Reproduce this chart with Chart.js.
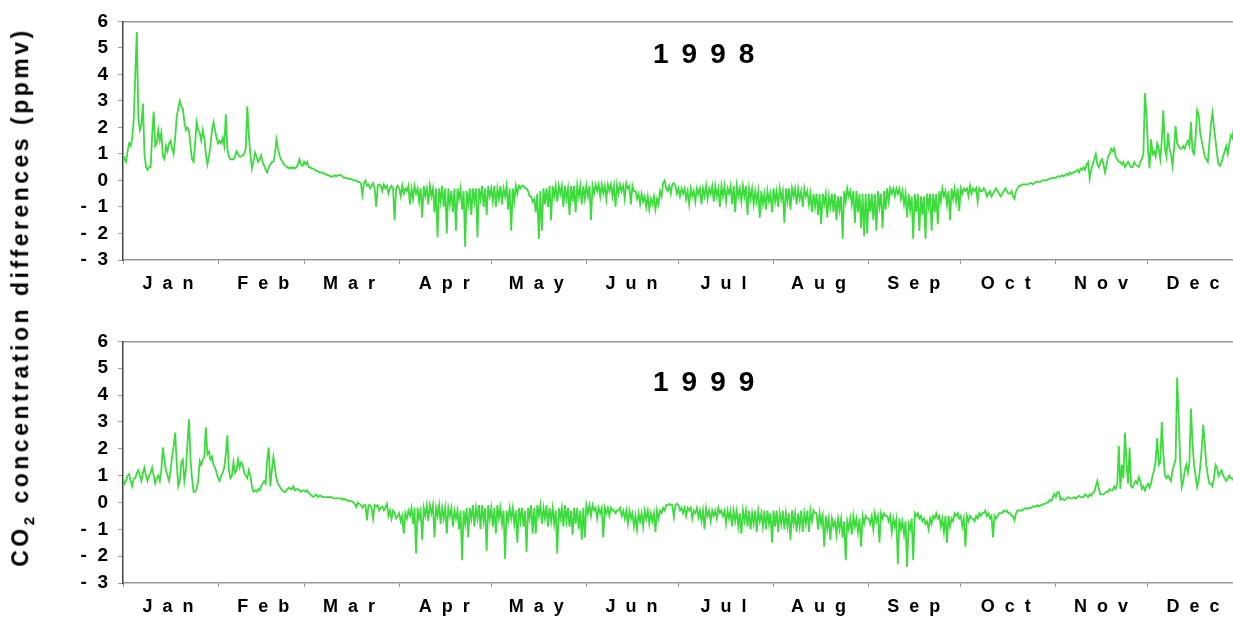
<!DOCTYPE html>
<html>
<head>
<meta charset="utf-8">
<script src="https://cdn.jsdelivr.net/npm/chart.js@4.4.1/dist/chart.umd.min.js"></script>
<style>
  body { margin: 0; width: 1233px; height: 619px; background: #fff; position: relative; overflow: hidden;
         font-family: 'Liberation Sans', Arial, sans-serif; }
  canvas { position: absolute; left: 0; }
  #c98 { top: 0; }
  #c99 { top: 320px; }
  .year { position: absolute; font-weight: bold; font-size: 28px; letter-spacing: 13px; color: #000; }
  #ytitle { position: absolute; left: 22px; top: 297px; white-space: nowrap; font-weight: bold; font-size: 23px;
            letter-spacing: 3.5px; color: #000; transform: translate(-50%, -50%) rotate(-90deg); }
  #ytitle sub { font-size: 15px; }
</style>
</head>
<body>
<canvas id="c98" width="1233" height="300"></canvas>
<canvas id="c99" width="1233" height="299"></canvas>
<div class="year" id="t98" style="left:653px; top:38px;"></div>
<div class="year" id="t99" style="left:653px; top:366px;"></div>
<div id="ytitle">CO<sub>2</sub> concentration differences (ppmv)</div>
<script>
const months = ['Jan','Feb','Mar','Apr','May','Jun','Jul','Aug','Sep','Oct','Nov','Dec'];
const monthStart = [0,31,59,90,120,151,181,212,243,273,304,334];
const yTicks = [-3,-2,-1,0,1,2,3,4,5,6];
const years = ['1998','1999'];

// half-day steps, one line per month
const co2_1998 = [
  1.0,0.8, 0.7,1.1, 1.4,1.3, 1.6,2.3, 4.0,5.6, 2.4,1.9, 2.1,2.9, 1.0,0.5, 0.4,0.5, 0.5,1.7, 2.6,1.3, 1.4,1.9, 1.5,1.8, 0.9,0.8, 1.3,1.1, 1.4,1.5, 1.2,1.0, 1.6,2.4, 2.7,3.0, 2.8,2.7, 2.2,1.9, 2.0,1.9, 1.3,0.8, 0.7,1.4, 2.2,1.9, 1.8,1.5, 1.9,1.6, 1.0,0.6, 0.9,1.3, 1.9,2.2, 1.9,1.6,
  1.4,1.5, 1.4,1.6, 1.3,2.5, 1.2,0.9, 0.8,0.8, 0.8,0.9, 1.1,1.0, 0.9,0.9, 0.95,1.0, 1.2,2.8, 1.7,1.0, 0.45,0.7, 1.05,0.9, 0.7,0.8, 0.95,0.7, 0.55,0.4, 0.3,0.5, 0.6,0.7, 0.7,1.0, 1.55,1.2, 0.95,0.8, 0.7,0.6, 0.55,0.5, 0.45,0.5, 0.45,0.5, 0.45,0.5, 0.6,0.8, 0.6,0.55,
  0.7,0.6, 0.7,0.5, 0.5,0.45, 0.45,0.4, 0.35,0.35, 0.3,0.3, 0.3,0.25, 0.25,0.2, 0.2,0.15, 0.15,0.15, 0.2,0.15, 0.2,0.2, 0.2,0.15, 0.1,0.1, 0.1,0.05, 0.07,0.05, 0.0,0.0, 0.0,-0.05, -0.05,-0.1, -0.55,-0.1, 0.0,-0.2, -0.15,-0.3, -0.2,-0.1, -0.3,-1.0, -0.2,-0.15, -0.2,-0.4, -0.15,-0.3, -0.2,-0.5, -0.3,-0.2, -0.3,-1.5, -0.3,-0.2,
  -0.3,-0.6, -0.2,-0.5, -0.3,-0.4, -0.2,-0.9, -0.3,-0.7, -0.2,-0.5, -0.3,-0.8, -0.3,-1.4, -0.2,-0.6, -0.3,-0.9, -0.2,-0.6, -0.3,-1.2, -0.3,-2.15, -0.3,-0.8, -0.2,-1.0, -0.3,-2.0, -0.3,-0.9, -0.4,-1.2, -0.3,-1.9, -0.3,-0.7, -0.3,-1.1, -0.4,-2.5, -0.4,-0.9, -0.3,-1.3, -0.3,-0.8, -0.3,-2.15, -0.3,-0.7, -0.2,-1.0, -0.3,-1.3, -0.2,-0.6,
  -0.3,-0.8, -0.2,-1.0, -0.3,-0.7, -0.2,-0.9, -0.3,-0.6, -0.2,-1.1, -0.3,-1.9, -0.3,-0.8, -0.2,-0.5, -0.2,-0.3, -0.2,-0.2, -0.3,-0.3, -0.4,-0.6, -0.6,-0.8, -0.7,-1.2, -0.5,-2.2, -0.4,-1.9, -0.3,-0.9, -0.3,-1.0, -0.2,-1.5, -0.2,-0.6, -0.2,-0.8, -0.2,-0.5, -0.2,-1.0, -0.2,-0.7, -0.3,-1.3, -0.2,-0.8, -0.2,-1.2, -0.2,-0.6, -0.2,-0.9, -0.2,-0.7,
  -0.2,-0.6, -0.2,-1.5, -0.2,-0.5, -0.15,-0.4, -0.15,-0.6, -0.15,-0.5, -0.2,-0.7, -0.15,-0.4, -0.15,-0.6, -0.2,-1.0, -0.15,-0.5, -0.15,-0.4, -0.2,-0.7, -0.1,-0.3, -0.2,-0.9, -0.2,-0.4, -0.4,-0.7, -0.5,-0.9, -0.5,-0.8, -0.6,-1.0, -0.6,-1.1, -0.7,-0.9, -0.6,-1.1, -0.7,-0.9, -0.4,-0.6, -0.1,0.0, -0.3,-0.4, -0.2,-0.5, -0.15,-0.1, -0.2,-0.5,
  -0.3,-0.6, -0.3,-0.5, -0.3,-0.7, -0.4,-0.9, -0.3,-0.6, -0.4,-0.8, -0.3,-0.5, -0.3,-0.9, -0.3,-0.6, -0.2,-0.7, -0.3,-0.5, -0.2,-0.8, -0.2,-0.6, -0.3,-1.0, -0.2,-0.6, -0.2,-0.8, -0.3,-0.5, -0.2,-0.9, -0.2,-1.2, -0.2,-0.6, -0.3,-0.8, -0.2,-0.6, -0.2,-1.3, -0.3,-0.7, -0.3,-0.9, -0.4,-0.8, -0.4,-1.4, -0.4,-0.9, -0.5,-1.1, -0.4,-0.8, -0.5,-1.2,
  -0.3,-0.8, -0.4,-1.0, -0.3,-0.7, -0.4,-1.6, -0.3,-0.8, -0.3,-1.1, -0.3,-0.6, -0.3,-0.9, -0.3,-0.7, -0.4,-1.0, -0.3,-0.6, -0.4,-0.9, -0.5,-1.2, -0.5,-1.0, -0.5,-1.3, -0.5,-1.65, -0.5,-0.9, -0.5,-1.4, -0.6,-1.0, -0.5,-1.2, -0.5,-1.5, -0.6,-1.1, -0.6,-2.2, -0.4,-0.8, -0.3,-0.6, -0.4,-0.9, -0.4,-1.6, -0.4,-1.2, -0.5,-1.8, -0.5,-2.1, -0.5,-2.0,
  -0.5,-1.2, -0.5,-1.5, -0.5,-1.9, -0.4,-1.0, -0.5,-1.8, -0.4,-1.1, -0.3,-0.8, -0.3,-0.5, -0.3,-0.6, -0.3,-0.5, -0.3,-0.7, -0.4,-0.9, -0.5,-1.4, -0.5,-1.1, -0.6,-2.2, -0.5,-1.2, -0.5,-1.9, -0.6,-1.3, -0.6,-2.2, -0.5,-1.0, -0.5,-1.9, -0.5,-1.2, -0.5,-1.65, -0.4,-0.8, -0.3,-0.6, -0.4,-0.9, -0.4,-1.5, -0.3,-0.7, -0.3,-0.8, -0.3,-1.15,
  -0.3,-0.5, -0.3,-0.4, -0.3,-0.6, -0.2,-0.5, -0.3,-0.4, -0.3,-0.8, -0.3,-0.4, -0.4,-0.3, -0.4,-0.6, -0.5,-0.4, -0.6,-0.5, -0.4,-0.3, -0.4,-0.5, -0.6,-0.5, -0.4,-0.3, -0.4,-0.5, -0.5,-0.4, -0.6,-0.7, -0.4,-0.3, -0.2,-0.2, -0.15,-0.15, -0.15,-0.15, -0.15,-0.1, -0.1,-0.15, -0.1,-0.05, -0.05,-0.05, -0.05,0.0, 0.0,0.0, 0.0,0.05, 0.05,0.1, 0.1,0.1,
  0.1,0.15, 0.15,0.15, 0.2,0.15, 0.2,0.25, 0.2,0.3, 0.25,0.3, 0.3,0.35, 0.4,0.3, 0.45,0.4, 0.5,0.4, 0.6,0.7, 0.07,0.4, 0.6,0.8, 1.0,0.6, 0.5,0.7, 0.8,0.6, 0.3,0.6, 0.9,1.0, 1.2,1.1, 1.2,0.9, 0.8,0.7, 0.7,0.6, 0.7,0.5, 0.6,0.7, 0.6,0.5, 0.5,0.7, 0.6,0.55, 0.5,0.7, 0.8,1.0, 3.3,2.5,
  1.2,0.45, 1.55,1.0, 1.1,0.9, 1.4,1.2, 0.8,1.5, 2.65,1.2, 0.9,1.8, 1.2,1.0, 0.55,1.2, 2.05,1.4, 1.3,1.2, 1.2,1.3, 1.2,1.4, 1.5,1.3, 2.2,1.1, 1.0,1.6, 2.65,2.5, 1.8,1.5, 1.2,0.9, 0.8,0.7, 1.4,2.1, 2.55,2.0, 1.5,1.0, 0.6,0.55, 0.7,0.9, 1.1,1.3, 1.0,1.4, 1.7,1.6, 2.0,2.3, 2.4,2.0, 1.8,1.6
];

const co2_1999 = [
  0.9,0.7, 0.8,1.0, 1.06,0.8, 0.6,0.9, 0.9,1.1, 1.2,1.0, 0.8,1.1, 1.3,1.0, 0.8,1.0, 1.1,1.3, 1.0,0.7, 0.9,1.0, 0.8,1.2, 2.05,1.6, 1.2,1.0, 0.8,1.2, 1.7,2.1, 2.6,1.5, 0.6,0.8, 1.5,1.6, 0.8,1.2, 2.2,3.1, 1.6,0.9, 0.4,0.4, 0.5,0.8, 1.55,1.4, 1.6,1.7, 2.8,1.8, 1.9,1.6, 1.7,1.4, 1.3,1.1,
  0.9,0.8, 1.0,1.1, 1.3,1.8, 2.5,1.2, 0.9,1.0, 1.5,1.1, 1.2,1.6, 1.3,1.5, 1.4,1.1, 1.0,0.9, 1.2,1.0, 0.6,0.4, 0.45,0.4, 0.5,0.45, 0.6,0.7, 0.8,0.7, 1.6,2.05, 0.6,1.2, 1.7,1.3, 0.9,0.7, 0.6,0.5, 0.45,0.4, 0.4,0.5, 0.55,0.5, 0.5,0.6, 0.45,0.5, 0.5,0.45, 0.4,0.45,
  0.45,0.4, 0.45,0.35, 0.3,0.25, 0.2,0.25, 0.3,0.2, 0.25,0.25, 0.2,0.2, 0.2,0.2, 0.2,0.2, 0.2,0.15, 0.15,0.15, 0.15,0.15, 0.15,0.1, 0.15,0.1, 0.1,0.05, 0.07,0.05, 0.0,-0.05, -0.17,0.0, -0.05,-0.1, -0.2,-0.1, -0.1,-0.67, -0.1,-0.1, -0.2,-0.6, -0.1,-0.15, -0.1,-0.3, -0.2,-0.15, -0.3,-0.2, -0.05,-0.5, -0.3,-0.6, -0.3,-0.4, -0.6,-0.5,
  -0.4,-0.7, -0.5,-1.16, -0.4,-0.6, -0.3,-0.5, -0.2,-0.8, -0.2,-1.9, -0.2,-0.6, -0.3,-1.4, -0.2,-0.5, -0.1,-0.7, -0.1,-0.4, -0.1,-1.3, -0.2,-0.5, -0.1,-0.8, -0.2,-0.6, -0.2,-1.16, -0.2,-0.5, -0.2,-0.9, -0.3,-0.6, -0.3,-1.0, -0.3,-2.15, -0.3,-0.8, -0.2,-1.3, -0.2,-0.6, -0.1,-0.9, -0.2,-0.6, -0.1,-1.0, -0.1,-0.7, -0.2,-1.8, -0.1,-0.6,
  -0.2,-0.9, -0.2,-1.16, -0.1,-0.6, -0.2,-0.8, -0.3,-2.1, -0.3,-0.7, -0.2,-0.6, -0.2,-0.8, -0.3,-1.5, -0.2,-0.7, -0.2,-0.9, -0.3,-1.85, -0.2,-0.6, -0.1,-1.16, -0.2,-1.16, -0.1,-0.5, -0.1,-0.8, -0.2,-0.6, -0.1,-0.9, -0.2,-0.7, -0.2,-0.8, -0.3,-1.9, -0.2,-0.6, -0.2,-0.9, -0.1,-0.7, -0.2,-0.9, -0.3,-1.2, -0.2,-0.8, -0.2,-1.0, -0.3,-1.4, -0.2,-1.3,
  -0.1,-0.4, -0.1,-0.5, -0.1,-0.3, -0.2,-0.6, -0.2,-0.4, -0.2,-1.3, -0.2,-0.4, -0.2,-0.5, -0.2,-0.3, -0.3,-0.4, -0.3,-0.3, -0.2,-0.5, -0.3,-0.6, -0.3,-0.8, -0.3,-0.6, -0.4,-0.9, -0.5,-1.0, -0.4,-0.7, -0.4,-0.9, -0.3,-0.6, -0.3,-0.8, -0.4,-0.7, -0.4,-1.1, -0.3,-0.6, -0.3,-0.4, -0.2,-0.3, -0.1,-0.1, -0.05,-0.1, -0.1,-0.55, -0.1,-0.05,
  -0.1,-0.3, -0.2,-0.4, -0.2,-0.5, -0.2,-0.3, -0.2,-0.6, -0.3,-0.4, -0.2,-0.55, -0.3,-0.7, -0.3,-1.0, -0.2,-0.5, -0.3,-0.7, -0.3,-0.5, -0.3,-0.6, -0.2,-0.4, -0.3,-0.5, -0.3,-0.8, -0.3,-0.6, -0.3,-0.9, -0.3,-0.7, -0.3,-0.9, -0.4,-1.16, -0.3,-0.7, -0.3,-0.9, -0.3,-1.0, -0.4,-0.8, -0.3,-1.1, -0.3,-0.7, -0.4,-0.9, -0.3,-1.0, -0.3,-0.8, -0.4,-1.5,
  -0.3,-0.9, -0.3,-1.1, -0.4,-0.8, -0.3,-1.0, -0.4,-0.9, -0.4,-1.4, -0.3,-0.8, -0.4,-1.1, -0.4,-0.9, -0.3,-1.1, -0.4,-0.8, -0.3,-1.1, -0.3,-0.7, -0.3,-0.4, -0.4,-1.0, -0.4,-0.8, -0.5,-1.65, -0.5,-1.0, -0.6,-1.4, -0.6,-0.9, -0.7,-1.2, -0.6,-1.0, -0.6,-1.3, -0.7,-2.15, -0.7,-1.0, -0.6,-1.2, -0.5,-0.9, -0.6,-1.1, -0.6,-1.65, -0.5,-0.8, -0.5,-0.6,
  -0.6,-0.8, -0.5,-1.0, -0.4,-0.7, -0.5,-1.5, -0.4,-0.6, -0.4,-0.5, -0.5,-0.7, -0.5,-1.1, -0.6,-0.9, -0.6,-2.3, -0.6,-1.0, -0.7,-1.2, -0.7,-2.4, -0.8,-1.0, -0.6,-2.15, -0.4,-0.5, -0.4,-0.6, -0.5,-0.7, -0.6,-0.8, -0.7,-1.0, -0.6,-0.8, -0.5,-0.6, -0.4,-0.6, -0.5,-0.9, -0.6,-1.1, -0.5,-1.5, -0.5,-0.9, -0.6,-0.7, -0.4,-0.5, -0.4,-0.6,
  -0.5,-0.9, -0.6,-1.65, -0.5,-0.7, -0.5,-0.6, -0.6,-0.7, -0.5,-0.6, -0.4,-0.5, -0.4,-0.4, -0.3,-0.5, -0.4,-0.6, -0.5,-1.3, -0.5,-0.6, -0.5,-0.4, -0.4,-0.4, -0.3,-0.35, -0.3,-0.4, -0.4,-0.5, -0.5,-0.67, -0.4,-0.3, -0.3,-0.3, -0.3,-0.25, -0.2,-0.25, -0.2,-0.2, -0.2,-0.15, -0.15,-0.15, -0.1,-0.15, -0.1,-0.1, -0.05,-0.05, 0.0,0.0, 0.1,0.05, 0.2,0.32,
  0.2,0.38, 0.38,0.1, 0.15,0.1, 0.1,0.15, 0.2,0.15, 0.15,0.15, 0.2,0.15, 0.2,0.25, 0.2,0.2, 0.2,0.3, 0.25,0.2, 0.3,0.25, 0.35,0.4, 0.6,0.8, 0.5,0.3, 0.3,0.3, 0.35,0.4, 0.4,0.5, 0.45,0.45, 0.6,0.5, 0.7,2.1, 0.5,1.4, 0.9,2.6, 1.5,0.7, 2.05,0.6, 0.55,0.7, 0.8,0.7, 0.94,0.8, 0.5,0.6, 0.45,0.6,
  0.7,0.55, 0.7,1.0, 1.2,1.55, 2.4,1.4, 1.5,3.0, 1.8,1.0, 0.9,1.0, 0.9,0.8, 1.2,1.4, 1.6,4.65, 3.2,1.5, 0.57,0.8, 1.2,1.4, 1.1,1.5, 3.5,2.2, 1.4,1.0, 0.57,0.8, 1.3,2.0, 2.9,2.2, 1.4,1.0, 0.7,0.7, 0.6,0.9, 1.4,1.3, 1.0,1.1, 1.2,1.0, 0.9,0.8, 0.9,1.0, 0.9,0.9, 0.8,0.7, 0.8,0.9, 1.0,0.9
];

Chart.defaults.font.family = "'Liberation Sans', Arial, sans-serif";
Chart.defaults.color = '#000';

const xMax = 361.7;

function makeChart(id, values, padTop, axisHeight) {
    const ctx = document.getElementById(id).getContext('2d');
    return new Chart(ctx, {
        type: 'line',
        data: {
            datasets: [{
                data: values.map((v, i) => ({ x: i / 2, y: v })),
                borderColor: '#3ddb3d',
                borderWidth: 1.8,
                pointRadius: 0,
                tension: 0
            }]
        },
        options: {
            responsive: false,
            animation: false,
            events: [],
            layout: { padding: { top: padTop, left: 0, right: 0, bottom: 0 } },
            plugins: {
                legend: { display: false },
                tooltip: { enabled: false }
            },
            scales: {
                x: {
                    type: 'linear',
                    min: 0,
                    max: xMax,
                    afterBuildTicks: s => { s.ticks = monthStart.map(v => ({ value: v })); },
                    afterFit: s => { s.height = axisHeight; },
                    ticks: {
                        autoSkip: false,
                        maxRotation: 0,
                        minRotation: 0,
                        labelOffset: 45,
                        padding: 9,
                        font: { size: 18, weight: 'bold' },
                        callback: (v, i) => months[i].split('').join('  ')
                    },
                    grid: { drawOnChartArea: false, tickLength: 4, color: '#999' },
                    border: { color: '#999', width: 1.5 }
                },
                xTop: {
                    type: 'linear',
                    position: 'top',
                    min: 0,
                    max: xMax,
                    afterFit: s => { s.height = 0; },
                    ticks: { display: false },
                    grid: { drawOnChartArea: false, drawTicks: false },
                    border: { color: '#999', width: 1.5 }
                },
                y: {
                    min: -3,
                    max: 6,
                    afterBuildTicks: s => { s.ticks = yTicks.map(v => ({ value: v })); },
                    afterFit: s => { s.width = 123; },
                    ticks: {
                        padding: 10,
                        font: { size: 19, weight: 'bold' },
                        callback: v => v < 0 ? '-  ' + Math.abs(v) : String(v)
                    },
                    grid: { drawOnChartArea: false, tickLength: 5, color: '#999' },
                    border: { color: '#444', width: 1.5 }
                }
            }
        }
    });
}

makeChart('c98', co2_1998, 15, 40);
makeChart('c99', co2_1999, 19, 36);

document.getElementById('t98').textContent = years[0];
document.getElementById('t99').textContent = years[1];
</script>
</body>
</html>
